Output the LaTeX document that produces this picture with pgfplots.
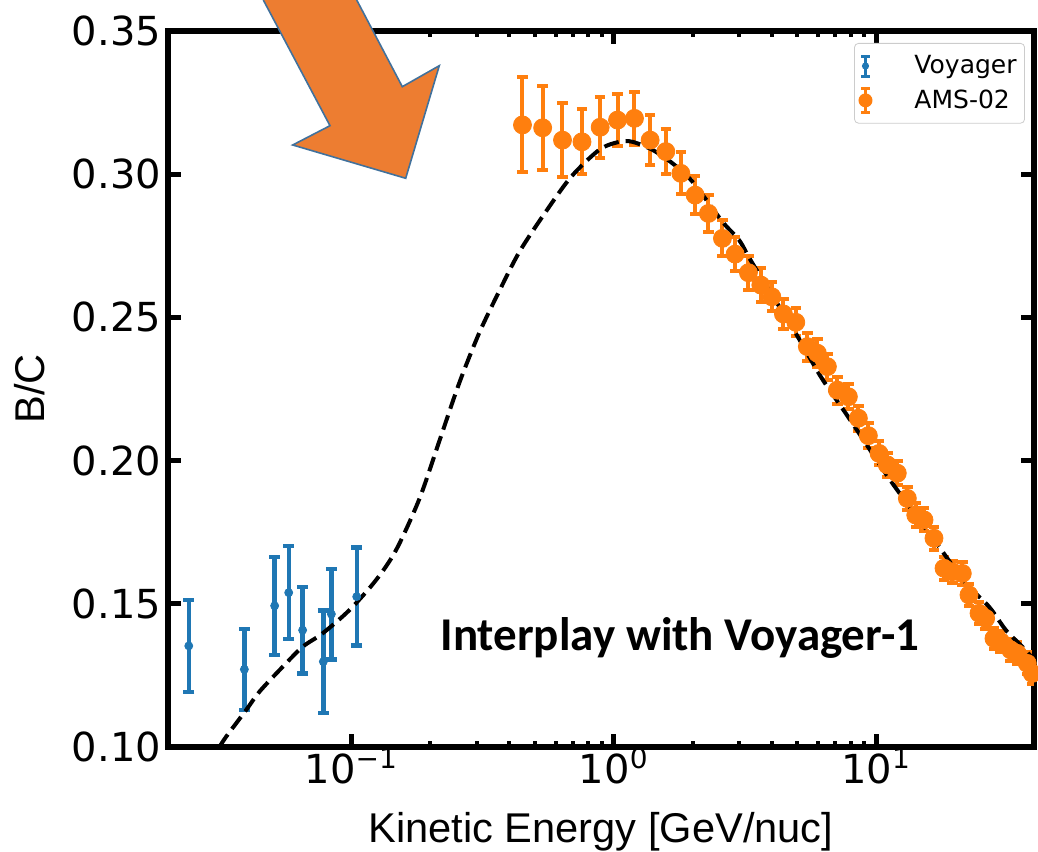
\documentclass[border=0pt]{standalone}
\usepackage{fontspec}
\setmainfont{Liberation Sans}
\newfontfamily\dejavu{DejaVu Sans}
\newfontfamily\carlito{Carlito}
\usepackage{pgfplots}
\usepackage{pgfplotstable}
\pgfplotsset{compat=1.18}
\definecolor{vblue}{HTML}{1F77B4}
\definecolor{aorange}{HTML}{FF7F0E}
\definecolor{arrfill}{HTML}{ED7D31}
\definecolor{arrline}{HTML}{41719C}

\pgfdeclareplotmark{vleg}{%
  \pgfsetlinewidth{1.5pt}%
  \pgfpathmoveto{\pgfqpoint{0pt}{-5pt}}\pgfpathlineto{\pgfqpoint{0pt}{5pt}}%
  \pgfpathmoveto{\pgfqpoint{-2.2pt}{-5pt}}\pgfpathlineto{\pgfqpoint{2.2pt}{-5pt}}%
  \pgfpathmoveto{\pgfqpoint{-2.2pt}{5pt}}\pgfpathlineto{\pgfqpoint{2.2pt}{5pt}}%
  \pgfusepathqstroke
  \pgfpathcircle{\pgfpointorigin}{1.8pt}\pgfusepathqfill
}
\pgfdeclareplotmark{aleg}{%
  \pgfsetlinewidth{1.5pt}%
  \pgfpathmoveto{\pgfqpoint{0pt}{-6pt}}\pgfpathlineto{\pgfqpoint{0pt}{6pt}}%
  \pgfpathmoveto{\pgfqpoint{-2.2pt}{-6pt}}\pgfpathlineto{\pgfqpoint{2.2pt}{-6pt}}%
  \pgfpathmoveto{\pgfqpoint{-2.2pt}{6pt}}\pgfpathlineto{\pgfqpoint{2.2pt}{6pt}}%
  \pgfusepathqstroke
  \pgfpathcircle{\pgfpointorigin}{3.5pt}\pgfusepathqfill
}

\pgfplotstableread{
x y e
0.0240 0.1353 0.0160
0.0391 0.1271 0.0142
0.0510 0.1493 0.0171
0.0577 0.1539 0.0162
0.0652 0.1408 0.0151
0.0782 0.1298 0.0179
0.0839 0.1464 0.0158
0.1048 0.1525 0.0171
}\voyager

\pgfplotstableread{
x y e
0.449 0.3172 0.0166
0.536 0.3162 0.0147
0.638 0.3119 0.0128
0.757 0.3113 0.0113
0.888 0.3164 0.0107
1.034 0.3189 0.0090
1.200 0.3195 0.0093
1.377 0.3119 0.0086
1.580 0.3079 0.0080
1.803 0.3003 0.0073
2.044 0.2927 0.0066
2.297 0.2863 0.0066
2.597 0.2776 0.0063
2.903 0.2721 0.0060
3.263 0.2656 0.0060
3.638 0.2613 0.0058
4.006 0.2572 0.0050
4.436 0.2512 0.0052
4.944 0.2483 0.0049
5.473 0.2398 0.0049
5.975 0.2375 0.0049
6.524 0.2328 0.0045
7.120 0.2246 0.0047
7.845 0.2223 0.0043
8.562 0.2148 0.0044
9.348 0.2087 0.0043
10.27 0.2025 0.0042
11.04 0.1985 0.0042
12.05 0.1956 0.0042
13.16 0.1868 0.0041
14.17 0.1810 0.0041
15.23 0.1793 0.0040
16.63 0.1729 0.0040
18.16 0.1624 0.0040
19.53 0.1612 0.0039
21.32 0.1606 0.0039
22.61 0.1531 0.0039
24.69 0.1467 0.0038
26.17 0.1449 0.0038
28.15 0.1379 0.0038
29.85 0.1368 0.0038
32.60 0.1339 0.0038
34.53 0.1327 0.0038
37.71 0.1292 0.0038
39.40 0.1257 0.0038
}\ams

\pgfplotstableread{
x y
0.03142 0.1000
0.03332 0.1036
0.03971 0.1129
0.04462 0.1193
0.05473 0.1280
0.06525 0.1350
0.07775 0.1397
0.09827 0.1478
0.1242 0.1583
0.1481 0.1688
0.1816 0.1866
0.2164 0.2068
0.2578 0.2271
0.3073 0.2446
0.3663 0.2592
0.4365 0.2728
0.5435 0.2861
0.6871 0.2990
0.8806 0.3085
1.0495 0.3113
1.1793 0.3113
1.4056 0.3085
1.675 0.3038
1.996 0.2974
2.597 0.2834
3.007 0.2770
3.379 0.2689
4.944 0.2444
6.157 0.2293
7.666 0.2165
9.138 0.2060
11.54 0.1921
17.38 0.1699
21.96 0.1572
26.95 0.1490
31.20 0.1409
36.08 0.1350
41.78 0.1286
}\model

\begin{document}
\begin{tikzpicture}
\begin{axis}[
  at={(0,0)}, anchor=south west,
  scale only axis, width=433pt, height=358pt,
  xmode=log, xmin=0.02, xmax=40, ymin=0.10, ymax=0.35,
  xtick={0.1,1,10},
  xticklabels={10\textsuperscript{−1},10\textsuperscript{0},10\textsuperscript{1}},
  ytick={0.10,0.15,0.20,0.25,0.30,0.35},
  yticklabel style={/pgf/number format/fixed,/pgf/number format/fixed zerofill,/pgf/number format/precision=2},
  xticklabel style={yshift=3pt},
  /pgf/number format/assume math mode=true,
  ticklabel style={font=\dejavu\fontsize{20}{24}\selectfont},
  tick align=inside, major tick length=6.5pt, minor tick length=3pt,
  tick style={black, line width=2.5pt},
  minor tick style={line width=2pt},
  axis line style={line width=3pt},
  xlabel={Kinetic Energy [GeV/nuc]}, ylabel={B/C},
  label style={font=\fontsize{20.8}{25}\selectfont},
  xlabel style={at={(axis description cs:0.5,-0.1327)}, anchor=base},
  ylabel style={at={(axis description cs:-0.1425,0.5)}, anchor=base, rotate=0},
  legend style={at={(axis description cs:1,1)}, anchor=north east, xshift=-4.5pt, yshift=-6pt,
    draw=black!20, rounded corners=2pt, font=\dejavu\fontsize{12.5}{15}\selectfont,
    row sep=2.5pt, inner xsep=2pt, inner ysep=4pt},
  legend cell align=left,
  legend image code/.code={\draw[mark repeat=2,mark phase=2] plot coordinates {(0pt,0pt) (3.5pt,0pt) (22pt,0pt)};},
]
\addlegendimage{only marks, mark=vleg, draw=vblue, fill=vblue}
\addlegendentry{\hspace*{19pt}Voyager}
\addlegendimage{only marks, mark=aleg, draw=aorange, fill=aorange}
\addlegendentry{\hspace*{19pt}AMS-02}
\addplot[only marks, mark=*, mark size=2pt, mark options={fill=vblue, draw=vblue}, forget plot,
  error bars/.cd, y dir=both, y explicit, error mark=-,
  error bar style={line width=2.2pt, vblue},
  error mark options={rotate=90, vblue, line width=2.2pt, mark size=2.8pt}]
  table[x=x, y=y, y error=e]{\voyager};
\addplot[only marks, mark=*, mark size=4.5pt, mark options={fill=aorange, draw=aorange}, forget plot,
  error bars/.cd, y dir=both, y explicit, error mark=-,
  error bar style={line width=2pt, aorange},
  error mark options={rotate=90, aorange, line width=2pt, mark size=2.6pt}]
  table[x=x, y=y, y error=e]{\ams};
\addplot[black, line width=2pt, dash pattern=on 7.5pt off 3.5pt, smooth, forget plot]
  table[x=x, y=y]{\model};
\end{axis}
\node[anchor=base, font=\carlito\bfseries\fontsize{23.5}{28}\selectfont] at (256pt,48.5pt) {Interplay with Voyager-1};
\fill[arrfill] (47.65pt,373.5pt) -- (81pt,310.65pt) -- (62.35pt,301pt) -- (118.85pt,284.35pt) -- (135.65pt,340.65pt) -- (117.15pt,330.15pt) -- (94.35pt,373.5pt) -- cycle;
\draw[arrline, line width=0.8pt, line join=miter] (47.65pt,373.5pt) -- (81pt,310.65pt) -- (62.35pt,301pt) -- (118.85pt,284.35pt) -- (135.65pt,340.65pt) -- (117.15pt,330.15pt) -- (94.35pt,373.5pt);
\pgfresetboundingbox
\useasboundingbox (-84pt,-52pt) rectangle (435pt,373.5pt);
\end{tikzpicture}
\end{document}
